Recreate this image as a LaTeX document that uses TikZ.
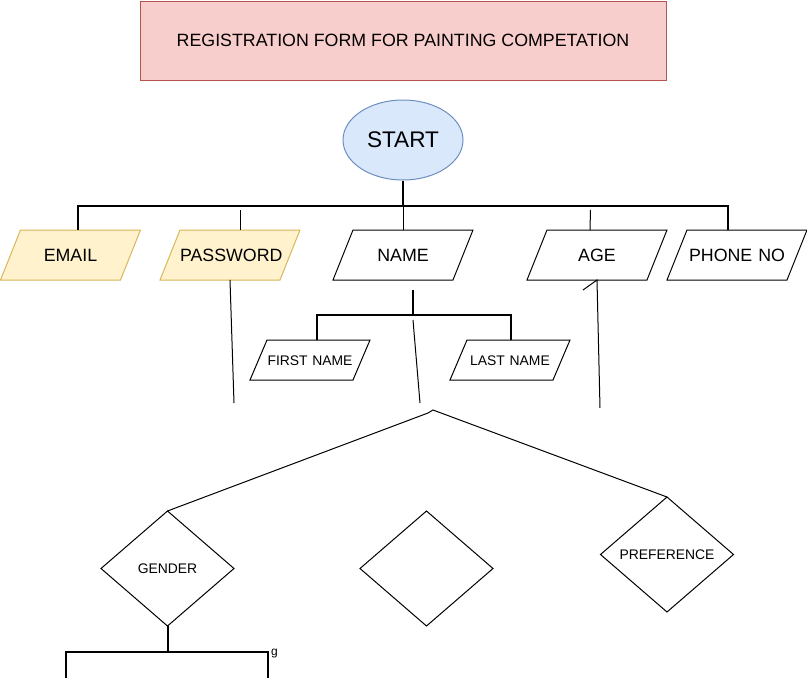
\documentclass[tikz,border=0pt]{standalone}
\usepackage{fontspec}
\setmainfont{Liberation Sans}
\usetikzlibrary{shapes.geometric}

\definecolor{titlefill}{HTML}{F8CECC}
\definecolor{titleline}{HTML}{B85450}
\definecolor{startfill}{HTML}{DAE8FC}
\definecolor{startline}{HTML}{6C8EBF}
\definecolor{inputfill}{HTML}{FFF2CC}
\definecolor{inputline}{HTML}{D6B656}

\tikzset{
  wire/.style={line width=1pt},
  bus/.style={line width=2pt},
  datafield/.style={trapezium, trapezium left angle=68.2, trapezium right angle=111.8,
    draw, line width=1pt, inner xsep=0pt, inner ysep=18.5pt, outer sep=0pt,
    text width=100pt, align=center, text height=13pt, text depth=0pt,
    font=\fontsize{17.8}{20}\selectfont},
  subfield/.style={datafield, trapezium left angle=66.97, trapezium right angle=113.03,
    inner ysep=15pt, text width=86pt, text height=10pt, text depth=0pt,
    font=\fontsize{13.9}{16}\selectfont},
  choice/.style={diamond, draw, line width=1pt, inner sep=0pt, outer sep=0pt,
    minimum width=133pt, minimum height=115pt, font=\fontsize{13.9}{16}\selectfont}
}

\begin{document}
\begin{tikzpicture}[x=1pt,y=-1pt]

  \useasboundingbox (0,0) rectangle (807,678);

  % Heading and start
  \node [draw=titleline, fill=titlefill, line width=1pt, minimum width=526pt, minimum height=79pt,
         inner sep=0pt, font=\fontsize{17.8}{20}\selectfont] (title) at (403,40.5)
    {REGISTRATION FORM FOR PAINTING COMPETATION};
  \node [ellipse, draw=startline, fill=startfill, line width=1pt, minimum width=120pt,
         minimum height=80pt, inner sep=0pt, font=\fontsize{22.6}{26}\selectfont] (start) at (403,140) {START};

  % First row of fields
  \node [datafield, draw=inputline, fill=inputfill] (email)    at (70.5,255) {EMAIL};
  \node [datafield, draw=inputline, fill=inputfill] (password) at (230,255)  {PASSWORD};
  \node [datafield] (name)  at (403,255) {NAME};
  \node [datafield] (age)   at (597,255) {AGE};
  \node [datafield] (phone) at (737,255) {PHONE NO};

  % Parts of the name
  \node [subfield] (first) at (310,360) {FIRST NAME};
  \node [subfield] (last)  at (510,360) {LAST NAME};

  % Choices
  \node [choice] (gender) at (167.5,568.5) {GENDER};
  \node [choice] (blank)  at (426.5,568.5) {};
  \node [choice] (pref)   at (667,554.5)   {PREFERENCE};

  % Free ends of the connectors
  \coordinate (topfork)    at (403,206);
  \coordinate (namestub)   at (413,290);
  \coordinate (namefork)   at (413,315);
  \coordinate (namestem)   at (413,320);
  \coordinate (nameend)    at (420,403);
  \coordinate (pwend)      at (234,403);
  \coordinate (agehook)    at (583,290);
  \coordinate (ageend)     at (600,408);
  \coordinate (apex)       at (433,410);
  \coordinate (apextick)   at (428,413);
  \coordinate (genderfork) at (167.5,652);
  \coordinate (gleft)      at (66,678);
  \coordinate (gright)     at (268,678);

  % Top tree
  \draw [bus] (start) -- (topfork);
  \draw [bus] ([xshift=7.5pt]email.north) |- (topfork) -| ([xshift=-9pt]phone.north);
  \draw [wire] (name.north) -- (topfork);
  \draw [wire] ([xshift=10pt]password.north) -- ++(0,-20);
  \draw [wire] ([xshift=-7pt]age.north) -- ++(0.5,-20);

  % Name tree
  \draw [bus] (namestub) -- (namefork);
  \draw [bus] ([xshift=7pt]first.north) |- (namefork) -| ([xshift=1pt]last.north);

  % Loose lines
  \draw [wire] (password.south) -- (pwend);
  \draw [wire] (namestem) -- (nameend);
  \draw [wire] (agehook) -- (age.south) -- (ageend);

  % Branches to the choices
  \draw [wire] (gender.north) -- (apextick) -- (apex) -- (pref.north);

  % Gender tree
  \draw [bus] (gender.south) -- (genderfork);
  \draw [bus] (gleft) |- (genderfork) -| (gright);
  \node [font=\fontsize{12}{14}\selectfont, inner sep=0pt, anchor=base west] (gnote) at (271,655) {g};

\end{tikzpicture}
\end{document}
